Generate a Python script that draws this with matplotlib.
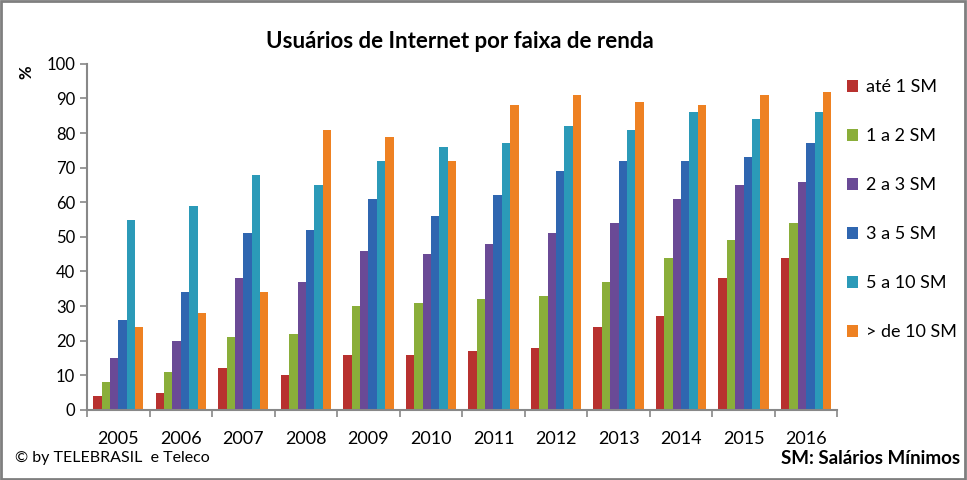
import numpy as np
import matplotlib.pyplot as plt
from matplotlib.patches import Rectangle

plt.rcParams['font.family'] = ['Lato', 'DejaVu Sans']

years = ['2005', '2006', '2007', '2008', '2009', '2010',
         '2011', '2012', '2013', '2014', '2015', '2016']
series = ['até 1 SM', '1 a 2 SM', '2 a 3 SM', '3 a 5 SM', '5 a 10 SM', '> de 10 SM']
ate1 = [4, 5, 12, 10, 16, 16, 17, 18, 24, 27, 38, 44]
de1a2 = [8, 11, 21, 22, 30, 31, 32, 33, 37, 44, 49, 54]
de2a3 = [15, 20, 38, 37, 46, 45, 48, 51, 54, 61, 65, 66]
de3a5 = [26, 34, 51, 52, 61, 56, 62, 69, 72, 72, 73, 77]
de5a10 = [55, 59, 68, 65, 72, 76, 77, 82, 81, 86, 84, 86]
mais10 = [24, 28, 34, 81, 79, 72, 88, 91, 89, 88, 91, 92]
colors = ['#B8312F', '#8AAE3A', '#6A4A96', '#2F66B0', '#2B9AB8', '#EE8122']

fig = plt.figure(figsize=(9.67, 4.8), dpi=100)
ax = fig.add_axes([0.090, 0.146, 0.776, 0.721])

x = np.arange(len(years))
w = 0.134
data = [ate1, de1a2, de2a3, de3a5, de5a10, mais10]
for i, (vals, lab, c) in enumerate(zip(data, series, colors)):
    ax.bar(x + (i - 2.5) * w, vals, w, color=c, label=lab)

ax.set_xlim(-0.5, len(years) - 0.5)
ax.set_ylim(0, 100)
ax.set_yticks(range(0, 101, 10))
ax.set_xticks(x)
ax.set_xticklabels(years, fontsize=13)
ax.set_xticks(np.arange(-0.5, len(years)), minor=True)
ax.tick_params(axis='x', which='major', length=0, pad=15)
ax.tick_params(axis='x', which='minor', length=5, color='#888888', width=1.2)
ax.tick_params(axis='y', labelsize=12, length=5, color='#888888', width=1.2)
for s in ['top', 'right']:
    ax.spines[s].set_visible(False)
for s in ['left', 'bottom']:
    ax.spines[s].set_color('#888888')
    ax.spines[s].set_linewidth(1.5)

fig.text(0.476, 0.913, 'Usuários de Internet por faixa de renda',
         ha='center', va='center', fontsize=16, fontweight='bold')
fig.text(0.027, 0.85, '%', rotation=90, ha='center', va='center',
         fontsize=12, fontweight='bold')

fig.legend(loc='upper left', bbox_to_anchor=(0.868, 0.85), frameon=False,
           fontsize=13, labelspacing=1.83, handlelength=0.65, handleheight=0.65,
           handletextpad=0.4, borderaxespad=0)

fig.text(0.015, 0.045, '© by TELEBRASIL  e Teleco', ha='left', va='center', fontsize=11.5)
fig.text(0.993, 0.045, 'SM: Salários Mínimos', ha='right', va='center',
         fontsize=13.5, fontweight='bold')

fig.patches.append(Rectangle((0.001, 0.002), 0.997, 0.995, transform=fig.transFigure,
                             fill=False, edgecolor='#7f7f7f', linewidth=2))

fig.savefig('out.png', dpi=100)
